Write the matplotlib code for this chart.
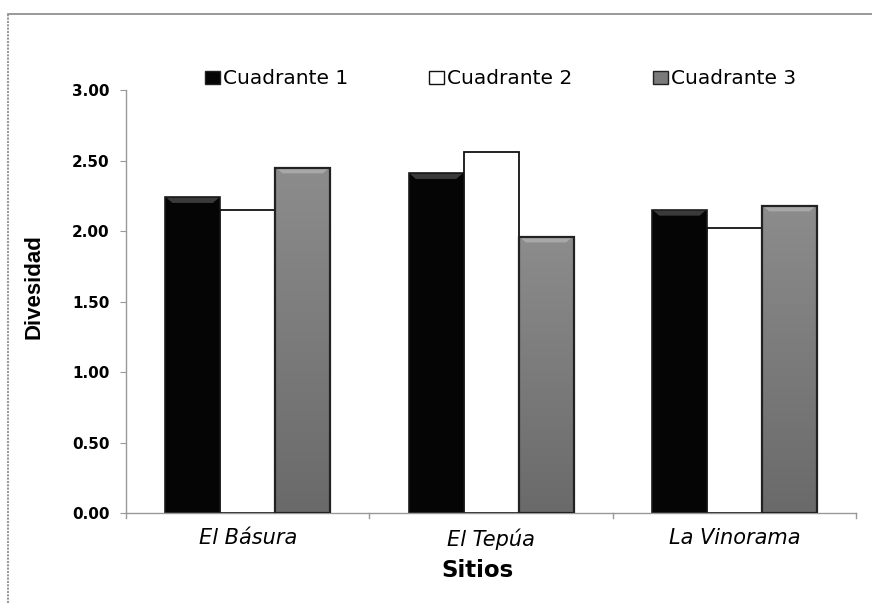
import numpy as np
import matplotlib
matplotlib.use('Agg')
import matplotlib.pyplot as plt
from matplotlib.patches import Patch, Polygon
from matplotlib.lines import Line2D
from matplotlib.colors import LinearSegmentedColormap

# Datos: índice de diversidad por sitio y cuadrante
sitios = ['El Básura', 'El Tepúa', 'La Vinorama']
cuadrante_1 = [2.24, 2.41, 2.15]
cuadrante_2 = [2.15, 2.56, 2.02]
cuadrante_3 = [2.45, 1.96, 2.18]
etiquetas = ['Cuadrante 1', 'Cuadrante 2', 'Cuadrante 3']
y_ticks = [0.0, 0.5, 1.0, 1.5, 2.0, 2.5, 3.0]

plt.rcParams['font.family'] = ['DejaVu Sans']

fig = plt.figure(figsize=(8.72, 6.03), dpi=100)
ax = fig.add_axes([0.1445, 0.149, 0.8372, 0.7015])

x = np.arange(len(sitios))
ancho = 0.226
series = [cuadrante_1, cuadrante_2, cuadrante_3]
gris = LinearSegmentedColormap.from_list('gris', ['#6a6a6a', '#8c8c8c'])

for i, valores in enumerate(series):
    pos = x + (i - 1) * ancho
    for xp, v in zip(pos, valores):
        x0, x1 = xp - ancho / 2, xp + ancho / 2
        if i == 0:
            ax.bar(xp, v, ancho, color='#050505', edgecolor='#1a1a1a', linewidth=1.2, zorder=2)
            brillo = '#3a3a3a'
        elif i == 1:
            ax.bar(xp, v, ancho, color='white', edgecolor='#111111', linewidth=1.3, zorder=2)
            brillo = None
        else:
            # degradado vertical en las barras grises
            grad = np.linspace(1, 0, 100).reshape(-1, 1)
            ax.imshow(grad, extent=[x0, x1, 0, v], aspect='auto', cmap=gris,
                      zorder=2, interpolation='bicubic')
            ax.bar(xp, v, ancho, color='none', edgecolor='#222222', linewidth=1.6, zorder=3)
            brillo = '#a8a8a8'
        if brillo is not None:
            d = 0.04
            bisel = Polygon([[x0 + 0.006, v - 0.004], [x1 - 0.006, v - 0.004],
                             [x1 - 0.03, v - d], [x0 + 0.03, v - d]],
                            closed=True, facecolor=brillo, edgecolor='none', zorder=2.5)
            ax.add_patch(bisel)

ax.set_xlim(-0.5, len(sitios) - 0.5)
ax.set_ylim(0, 3.0)
ax.set_yticks(y_ticks)
ax.set_yticklabels([f'{t:.2f}' for t in y_ticks], fontsize=11, fontweight='bold')
ax.set_xticks(x)
ax.set_xticklabels(sitios, fontsize=15, fontstyle='italic')
ax.tick_params(axis='x', length=0, pad=11)
ax.tick_params(axis='y', length=4, color='#999999', pad=8)

# marcas de separación entre sitios
for b in np.arange(-0.5, len(sitios), 1.0):
    ax.plot([b, b], [0, -0.035], color='#999999', lw=1, clip_on=False, zorder=1)

for s in ['top', 'right']:
    ax.spines[s].set_visible(False)
for s in ['left', 'bottom']:
    ax.spines[s].set_color('#999999')
    ax.spines[s].set_linewidth(1)

ax.set_ylabel('Divesidad', fontsize=16, fontweight='bold', family='Liberation Sans')
ax.yaxis.set_label_coords(-0.112, 0.535)
ax.set_xlabel('Sitios', fontsize=16.5, fontweight='bold')
ax.xaxis.set_label_coords(0.481, -0.108)

handles = [Patch(facecolor='#050505', edgecolor='#222222'),
           Patch(facecolor='white', edgecolor='#111111'),
           Patch(facecolor='#7a7a7a', edgecolor='#222222')]
fig.legend(handles, etiquetas, loc='center left', bbox_to_anchor=(0.235, 0.869),
           ncol=3, frameon=False, fontsize=14.5, handlelength=0.75, handleheight=0.6,
           handletextpad=0.15, columnspacing=4.0, borderpad=0, borderaxespad=0)

# marco del gráfico
fig.add_artist(Line2D([0.009, 1.0], [0.977, 0.977], color='#888888', lw=1.2))
fig.add_artist(Line2D([0.009, 0.009], [0.0, 0.977], color='#999999', lw=1.5, ls=(0, (1, 0.6))))

fig.savefig('out.png', dpi=100)
